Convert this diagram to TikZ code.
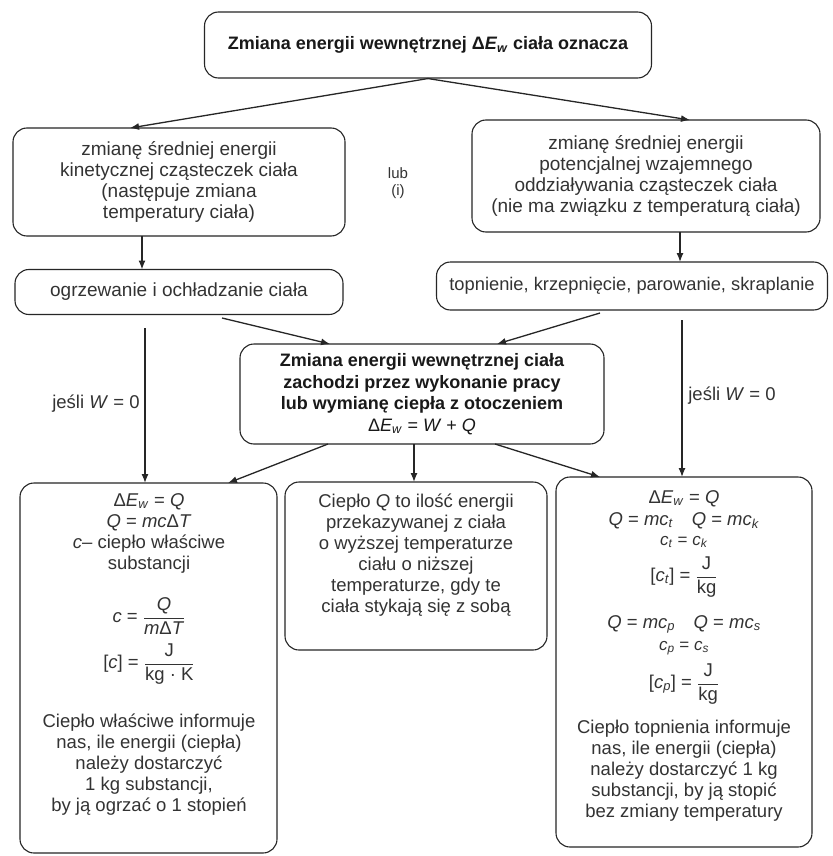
\documentclass[tikz,border=0pt]{standalone}
\usepackage{fontspec}
\setmainfont{Liberation Sans}
\usetikzlibrary{arrows.meta,calc}
\newcommand\vfr[2]{$\displaystyle\frac{\mbox{#1}}{\mbox{#2}}$}
\newcommand\Ew{Δ\textit{E}\textsubscript{\textit{w}}}
\begin{document}
\begin{tikzpicture}[x=1pt,y=-1pt,
  box/.style={draw=black!85, line width=1.1pt, rounded corners=14pt, inner sep=0pt, align=center, font=\fontsize{19}{21.3}\selectfont, text=black!80},
  txt/.style={align=center, inner sep=0pt, font=\fontsize{18.5}{21}\selectfont, text=black!80},
  conn/.style={draw=black!85, line width=1.3pt, -{Latex[length=9pt,width=7pt]}},
]
\useasboundingbox (0,0) rectangle (832,856);
\fill[white] (0,0) rectangle (832,856);

% boxes
\node[box, minimum width=447pt, minimum height=66pt, font=\bfseries\fontsize{18}{21}\selectfont, text=black!90] (top) at (428,45) {Zmiana energii wewnętrznej \Ew{} ciała oznacza};
\node[box, minimum width=332pt, minimum height=108pt] (L2) at (179,182) {zmianę średniej energii\\kinetycznej cząsteczek ciała\\(następuje zmiana\\temperatury ciała)};
\node[box, minimum width=348pt, minimum height=112pt] (R2) at (646,176) {zmianę średniej energii\\potencjalnej wzajemnego\\oddziaływania cząsteczek ciała\\(nie ma związku z temperaturą ciała)};
\node[txt, font=\fontsize{15}{17}\selectfont] (lub) at (398,183) {lub\\(i)};
\node[box, minimum width=328pt, minimum height=45pt] (L3) at (179,292) {ogrzewanie i ochładzanie ciała};
\node[box, minimum width=391pt, minimum height=48pt, font=\fontsize{18.3}{21}\selectfont] (R3) at (632,286) {topnienie, krzepnięcie, parowanie, skraplanie};
\node[box, minimum width=364pt, minimum height=100pt, font=\bfseries\fontsize{18}{21.5}\selectfont, text=black!90] (C) at (422,394) {Zmiana energii wewnętrznej ciała\\ zachodzi przez wykonanie pracy\\ lub wymianę ciepła z otoczeniem\\ \mdseries\fontsize{18}{20}\selectfont \Ew{} = \textit{W} + \textit{Q}};
\node[box, minimum width=257pt, minimum height=370pt] (BL) at (148.5,668) {};
\node[box, minimum width=262pt, minimum height=168pt] (BM) at (416,566) {};
\node[box, minimum width=256pt, minimum height=370pt] (BR) at (684,662) {};

% texts of bottom boxes
\node[txt, anchor=base] (BL1) at (149,506) {\Ew{} = \textit{Q}};
\node[txt, anchor=base] (BL2) at (149,527) {\textit{Q} = \textit{mc}Δ\textit{T}};
\node[txt, anchor=base] (BL3) at (149,548) {\textit{c}– ciepło właściwe};
\node[txt, anchor=base] (BL4) at (149,569) {substancji};
\node[txt] (BL5) at (149,616) {\textit{c} = \vfr{\textit{Q}}{\textit{m}Δ\textit{T}}};
\node[txt] (BL6) at (149,664) {{[\textit{c}]} = \vfr{J}{kg · K}};
\node[txt, anchor=north] (BLt) at (149,714) {Ciepło właściwe informuje\\
nas, ile energii (ciepła)\\
należy dostarczyć\\
1 kg substancji,\\
by ją ogrzać o 1 stopień};
\node[txt, anchor=north] (BMt) at (416,494) {Ciepło \textit{Q} to ilość energii\\
przekazywanej z ciała\\
o wyższej temperaturze\\
ciału o niższej\\
temperaturze, gdy te\\
ciała stykają się z sobą};
\node[txt, anchor=base] (BR1) at (684,503) {\Ew{} = \textit{Q}};
\node[txt, anchor=base] (BR2) at (684,525) {\textit{Q} = \textit{mc}\textsubscript{\textit{t}}\quad \textit{Q} = \textit{mc}\textsubscript{\textit{k}}};
\node[txt, anchor=base, font=\fontsize{17}{20}\selectfont] (BR3) at (684,545) {\textit{c}\textsubscript{\textit{t}} = \textit{c}\textsubscript{\textit{k}}};
\node[txt] (BR4) at (684,577) {{[\textit{c}\textsubscript{\textit{t}}]} = \vfr{J}{kg}};
\node[txt, anchor=base] (BR5) at (684,628) {\textit{Q} = \textit{mc}\textsubscript{\textit{p}}\quad \textit{Q} = \textit{mc}\textsubscript{\textit{s}}};
\node[txt, anchor=base, font=\fontsize{17}{20}\selectfont] (BR6) at (684,650) {\textit{c}\textsubscript{\textit{p}} = \textit{c}\textsubscript{\textit{s}}};
\node[txt] (BR7) at (684,684) {{[\textit{c}\textsubscript{\textit{p}}]} = \vfr{J}{kg}};
\node[txt, anchor=north] (BRt) at (684,720) {Ciepło topnienia informuje\\
nas, ile energii (ciepła)\\
należy dostarczyć 1 kg\\
substancji, by ją stopić\\
bez zmiany temperatury};

\node[txt] (wl) at (96,404) {jeśli \textit{W} = 0};
\node[txt] (wr) at (732,396) {jeśli \textit{W} = 0};

% connector end points
\coordinate (a1) at (130,128);
\coordinate (a2) at (690,120);
\coordinate (b1s) at (142,236); \coordinate (b1e) at (142,269.5);
\coordinate (b2s) at (680,232); \coordinate (b2e) at (680,262);
\coordinate (c1s) at (222,318); \coordinate (c1e) at (330,344);
\coordinate (c2s) at (600,313); \coordinate (c2e) at (497,344);
\coordinate (v1s) at (145,328); \coordinate (v1e) at (145,483);
\coordinate (v2s) at (682,320); \coordinate (v2e) at (682,477);
\coordinate (d1s) at (328,444); \coordinate (d1e) at (228,483);
\coordinate (d2s) at (414,444); \coordinate (d2e) at (414,482);
\coordinate (d3s) at (495,444); \coordinate (d3e) at (600,477);

\draw[conn] (top.south) -- (a1);
\draw[conn] (top.south) -- (a2);
\draw[conn] (b1s) -- (b1e);
\draw[conn] (b2s) -- (b2e);
\draw[conn] (c1s) -- (c1e);
\draw[conn] (c2s) -- (c2e);
\draw[conn] (v1s) -- (v1e);
\draw[conn] (v2s) -- (v2e);
\draw[conn] (d1s) -- (d1e);
\draw[conn] (d2s) -- (d2e);
\draw[conn] (d3s) -- (d3e);
\end{tikzpicture}
\end{document}
